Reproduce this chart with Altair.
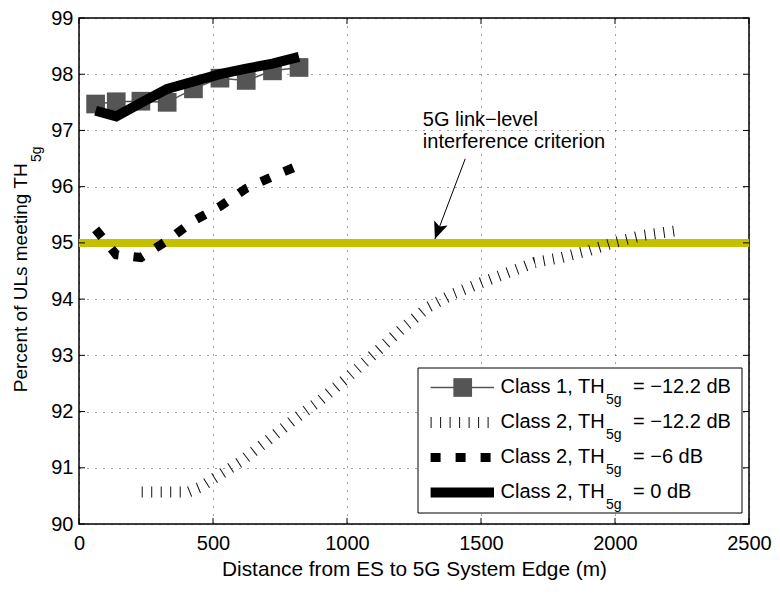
import altair as alt
import pandas as pd

# ---------------- data ----------------
x_class1 = [62, 139, 231, 329, 427, 526, 624, 722, 821]
y_class1 = [97.47, 97.51, 97.52, 97.50, 97.74, 97.93, 97.89, 98.06, 98.12]

x_class2 = [62, 139, 231, 329, 427, 526, 624, 722, 821]
y_class2_0db = [97.35, 97.25, 97.49, 97.74, 97.87, 98.00, 98.10, 98.19, 98.31]
y_class2_m6db = [95.24, 94.79, 94.74, 95.04, 95.39, 95.65, 95.97, 96.18, 96.38]

x_class2_m12 = [234, 330, 409, 450, 500, 600, 700, 800, 900, 1000, 1100,
                1200, 1300, 1400, 1500, 1600, 1700, 1800, 1900, 2000, 2100, 2220]
y_class2_m12 = [90.57, 90.57, 90.57, 90.65, 90.80, 91.10, 91.47, 91.85, 92.20,
                92.60, 93.02, 93.45, 93.85, 94.10, 94.29, 94.47, 94.65, 94.74,
                94.86, 95.01, 95.13, 95.21]

criterion_x = [0, 2500]
criterion_y = [95, 95]

x_ticks = [0, 500, 1000, 1500, 2000, 2500]
y_ticks = [90, 91, 92, 93, 94, 95, 96, 97, 98, 99]

annotation_lines = ["5G link\u2212level", "interference criterion"]
annotation_x = [1283, 1283]
annotation_y = [97.086, 96.69]
arrow_x = [1441]
arrow_y = [96.495]
arrow_x2 = [1328]
arrow_y2 = [95.069]

legend_main = ["Class 1, TH", "Class 2, TH", "Class 2, TH", "Class 2, TH"]
legend_sub = ["5g", "5g", "5g", "5g"]
legend_rest = ["= \u221212.2 dB", "= \u221212.2 dB", "= \u22126 dB", "= 0 dB"]

x_title = "Distance from ES to 5G System Edge (m)"
y_title_main = "Percent of ULs meeting TH"
y_title_sub = "5g"

# ---------------- layout ----------------
W, H = 670, 506
FONT = "Liberation Sans"

xs = alt.Scale(domain=[0, 2500], nice=False, zero=False)
ys = alt.Scale(domain=[90, 99], nice=False, zero=False)

grid_kw = dict(grid=True, gridDash=[1, 7], gridColor="#000000", gridOpacity=0.75,
               gridWidth=1, ticks=False, tickSize=0, domain=False,
               labelFontSize=20, labelColor="black", labelFont=FONT,
               labelFlush=False, labelOverlap=False, format="d")
xaxis = alt.Axis(values=x_ticks, title=x_title, titleFontSize=20.8,
                 titleFontWeight="normal", titleColor="black", titleFont=FONT,
                 labelPadding=9, titlePadding=6, **grid_kw)
yaxis = alt.Axis(values=y_ticks, title="", labelPadding=6, **grid_kw)

X = alt.X("x:Q", scale=xs, axis=xaxis)
Y = alt.Y("y:Q", scale=ys, axis=yaxis)

df_c1 = pd.DataFrame({"x": x_class1, "y": y_class1})
df_0 = pd.DataFrame({"x": x_class2, "y": y_class2_0db})
df_6 = pd.DataFrame({"x": x_class2, "y": y_class2_m6db})
df_12 = pd.DataFrame({"x": x_class2_m12, "y": y_class2_m12})
df_crit = pd.DataFrame({"x": criterion_x, "y": criterion_y})
df_xt = pd.DataFrame({"x": x_ticks})
df_yt = pd.DataFrame({"y": y_ticks})
df_ann = pd.DataFrame({"x": annotation_x, "y": annotation_y, "t": annotation_lines})
df_arrow = pd.DataFrame({"x": arrow_x, "y": arrow_y, "x2": arrow_x2, "y2": arrow_y2})
df_head = pd.DataFrame({"x": arrow_x2, "y": arrow_y2})
dummy = pd.DataFrame({"d": [0]})

layers = []

# criterion line (bottom)
layers.append(alt.Chart(df_crit).mark_line(color="#c3c000", strokeWidth=8,
                                           strokeCap="butt").encode(x=X, y=Y))
# class 1
layers.append(alt.Chart(df_c1).mark_line(color="#555555", strokeWidth=1.5).encode(x=X, y=Y))
layers.append(alt.Chart(df_c1).mark_point(shape="square", filled=True, size=350,
                                          color="#555555", opacity=1).encode(x=X, y=Y))
# class 2, -12.2 dB (ticks)
layers.append(alt.Chart(df_12).mark_line(color="#111111", strokeWidth=11,
                                         strokeDash=[1, 8.5]).encode(x=X, y=Y))
# class 2, -6 dB (dashes)
layers.append(alt.Chart(df_6).mark_line(color="black", strokeWidth=9,
                                        strokeDash=[10, 15]).encode(x=X, y=Y))
# class 2, 0 dB (solid)
layers.append(alt.Chart(df_0).mark_line(color="black", strokeWidth=10).encode(x=X, y=Y))

# inward ticks on all four sides
tick_style = dict(color="black", strokeWidth=1)
layers.append(alt.Chart(df_xt).mark_rule(**tick_style).encode(
    x=X, y=alt.value(H), y2=alt.value(H - 6)))
layers.append(alt.Chart(df_xt).mark_rule(**tick_style).encode(
    x=X, y=alt.value(0), y2=alt.value(6)))
layers.append(alt.Chart(df_yt).mark_rule(**tick_style).encode(
    y=Y, x=alt.value(0), x2=alt.value(6)))
layers.append(alt.Chart(df_yt).mark_rule(**tick_style).encode(
    y=Y, x=alt.value(W), x2=alt.value(W - 6)))

# annotation
layers.append(alt.Chart(df_ann).mark_text(align="left", baseline="alphabetic",
                                          fontSize=20, font=FONT, color="black").encode(
    x=X, y=Y, text="t:N"))
layers.append(alt.Chart(df_arrow).mark_rule(color="black", strokeWidth=1).encode(
    x=X, y=Y, x2="x2:Q", y2="y2:Q"))
layers.append(alt.Chart(df_head).mark_point(
    shape="M0,0L-0.42,-1L0,-0.78L0.42,-1Z", filled=True, size=1156, angle=20.5,
    color="black", opacity=1).encode(x=X, y=Y))

# legend (manual, to allow subscripts and mixed line styles)
LB_L, LB_R, LB_T, LB_B = W - 331, W - 7, H - 156, H - 11
row_c = [LB_T + 17.5, LB_T + 52.5, LB_T + 87.5, LB_T + 122.5]
sym_x0, sym_x1, sq_x = LB_L + 12.6, LB_L + 76, LB_L + 44.7
txt_x = LB_L + 82.5

layers.append(alt.Chart(dummy).mark_rect(fill="white", stroke="black", strokeWidth=1).encode(
    x=alt.value(LB_L), x2=alt.value(LB_R), y=alt.value(LB_T), y2=alt.value(LB_B)))

sym_styles = [
    dict(color="#555555", strokeWidth=1.5),
    dict(color="#111111", strokeWidth=11, strokeDash=[1, 8.5]),
    dict(color="black", strokeWidth=9, strokeDash=[10, 15]),
    dict(color="black", strokeWidth=10),
]
for i in range(4):
    yc = row_c[i] + 2
    layers.append(alt.Chart(dummy).mark_rule(**sym_styles[i]).encode(
        x=alt.value(sym_x0), x2=alt.value(sym_x1), y=alt.value(yc)))
    if i == 0:
        layers.append(alt.Chart(dummy).mark_point(shape="square", filled=True, size=350,
                                                  color="#555555", opacity=1).encode(
            x=alt.value(sq_x), y=alt.value(yc)))
    base_y = row_c[i] + 7.2
    layers.append(alt.Chart(dummy).mark_text(align="left", baseline="alphabetic", fontSize=20,
                                             font=FONT, color="black", text=legend_main[i]).encode(
        x=alt.value(txt_x), y=alt.value(base_y)))
    layers.append(alt.Chart(dummy).mark_text(align="left", baseline="alphabetic", fontSize=14,
                                             font=FONT, color="black", text=legend_sub[i]).encode(
        x=alt.value(txt_x + 105.5), y=alt.value(base_y + 11)))
    layers.append(alt.Chart(dummy).mark_text(align="left", baseline="alphabetic", fontSize=20,
                                             font=FONT, color="black", text=legend_rest[i]).encode(
        x=alt.value(txt_x + 132.5), y=alt.value(base_y)))

# y-axis title with subscript
layers.append(alt.Chart(dummy).mark_text(align="left", baseline="alphabetic", fontSize=19,
                                         font=FONT, color="black", angle=270,
                                         text=y_title_main).encode(
    x=alt.value(-52), y=alt.value(374.2)))
layers.append(alt.Chart(dummy).mark_text(align="left", baseline="alphabetic", fontSize=14,
                                         font=FONT, color="black", angle=270,
                                         text=y_title_sub).encode(
    x=alt.value(-38.5), y=alt.value(144)))

chart = alt.layer(*layers).properties(
    width=W, height=H,
    padding={"left": 71, "top": 10, "right": 23, "bottom": 57},
    autosize=alt.AutoSizeParams(type="none"),
).configure(font=FONT).configure_view(stroke="black", strokeWidth=1.5)

chart.save("out.html", embed_options={"renderer": "svg", "actions": False})
